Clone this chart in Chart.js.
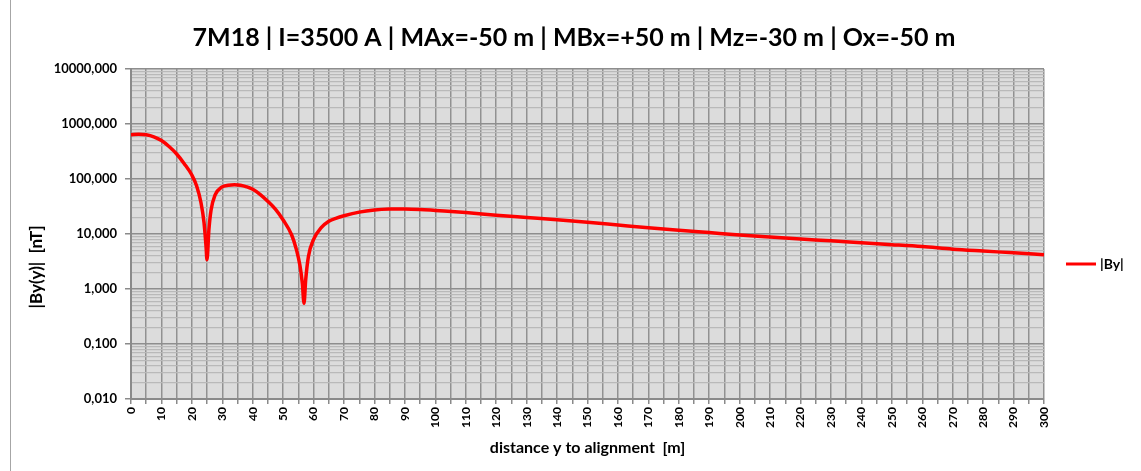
<!DOCTYPE html>
<html>
<head>
<meta charset="utf-8">
<script src="https://cdn.jsdelivr.net/npm/chart.js@4.4.1/dist/chart.umd.min.js"></script>
<style>
  html, body { margin: 0; padding: 0; background: #ffffff; }
  #wrap { width: 1141px; height: 471px; }
</style>
</head>
<body>
<div id="wrap"><canvas id="c" width="1141" height="471"></canvas></div>
<script>
// Distance from the alignment [m]
const distances = [
  0, 2.5, 5, 7.5, 10, 12.5, 15, 17.5, 20, 21.6, 23.0, 24.0, 24.65, 24.97, 25.6, 26.3, 27.6, 29.8,
  32, 34, 36, 38, 40, 42.5, 45, 47.5, 50, 52.8, 54.4, 55.5, 56.3, 56.85, 57.4, 58.3, 60, 62.5,
  65, 67.5, 70, 75, 80, 85, 90, 95, 100, 110, 120, 130, 140, 150, 160, 170, 180, 190, 200,
  210, 220, 230, 240, 250, 260, 270, 280, 290, 300
];
// |By(y)| [nT]
const byValues = [
  640, 650, 635, 585, 500, 390, 285, 190, 118, 74, 37, 16, 6, 3.4, 12, 27, 51, 71,
  77, 78.5, 77, 72, 65, 52, 39, 28, 18, 9.6, 5.1, 2.7, 1.27, 0.55, 1.46, 3.9, 8, 13,
  17, 19.5, 21.5, 25, 27.3, 28.4, 28.6, 28, 26.8, 24.5, 22, 20, 18.2, 16.4, 14.6, 13, 11.7, 10.6, 9.6,
  8.8, 8.1, 7.5, 6.9, 6.4, 5.9, 5.3, 4.9, 4.55, 4.2
];

const chartTitle = '7M18 | I=3500 A | MAx=-50 m | MBx=+50 m | Mz=-30 m | Ox=-50 m';
const seriesName = '|By|';
const xAxisTitle = 'distance y to alignment  [m]';
const yAxisTitle = '|By(y)|  [nT]';

// Decade ticks on the log axis and their labels
const yDecades = [0.01, 0.1, 1, 10, 100, 1000, 10000];
const yTickLabels = ['0,010', '0,100', '1,000', '10,000', '100,000', '1000,000', '10000,000'];
// Labelled distance ticks (gridlines every 5 m)
const xTickLabels = [0, 10, 20, 30, 40, 50, 60, 70, 80, 90, 100, 110, 120, 130, 140, 150,
  160, 170, 180, 190, 200, 210, 220, 230, 240, 250, 260, 270, 280, 290, 300];

const FONT = 'Lato, "Open Sans", "DejaVu Sans", sans-serif';

function isDecade(v) {
  const l = Math.log10(v);
  return Math.abs(l - Math.round(l)) < 1e-9;
}

// White page, thin left frame line, grey plot background
const backdrop = {
  id: 'backdrop',
  beforeDraw(chart) {
    const { ctx, chartArea: a } = chart;
    ctx.save();
    ctx.fillStyle = '#ffffff';
    ctx.fillRect(0, 0, chart.width, chart.height);
    ctx.strokeStyle = '#a6a6a6';
    ctx.lineWidth = 1;
    ctx.beginPath();
    ctx.moveTo(10.5, 0);
    ctx.lineTo(10.5, chart.height);
    ctx.stroke();
    ctx.fillStyle = '#dcdcdc';
    ctx.fillRect(a.left, a.top, a.right - a.left, a.bottom - a.top);
    ctx.restore();
  }
};

// Heading, rotated y-axis title and the side legend
const annotations = {
  id: 'annotations',
  afterDraw(chart) {
    const { ctx, chartArea: a } = chart;
    const ds = chart.data.datasets[0];

    ctx.save();
    ctx.fillStyle = '#000000';
    ctx.font = 'bold 25px ' + FONT;
    ctx.textAlign = 'center';
    ctx.textBaseline = 'middle';
    ctx.fillText(chartTitle, 574, 38);
    ctx.restore();

    ctx.save();
    ctx.fillStyle = '#000000';
    ctx.font = 'bold 17px ' + FONT;
    ctx.textAlign = 'center';
    ctx.textBaseline = 'middle';
    ctx.translate(37, 267);
    ctx.rotate(-Math.PI / 2);
    ctx.fillText(yAxisTitle, 0, 0);
    ctx.restore();

    const y = a.top + 195;
    ctx.save();
    ctx.strokeStyle = ds.borderColor;
    ctx.lineWidth = 3;
    ctx.beginPath();
    ctx.moveTo(a.right + 22, y);
    ctx.lineTo(a.right + 52, y);
    ctx.stroke();
    ctx.fillStyle = '#000000';
    ctx.font = 'bold 14px ' + FONT;
    ctx.textAlign = 'left';
    ctx.textBaseline = 'middle';
    ctx.fillText(ds.label, a.right + 56, y);
    ctx.restore();
  }
};

new Chart(document.getElementById('c'), {
  type: 'line',
  data: {
    datasets: [{
      label: seriesName,
      data: distances.map((d, i) => ({ x: d, y: byValues[i] })),
      borderColor: '#ff0000',
      backgroundColor: '#ff0000',
      borderWidth: 3.5,
      pointRadius: 0,
      cubicInterpolationMode: 'monotone',
      fill: false
    }]
  },
  options: {
    responsive: false,
    animation: false,
    devicePixelRatio: 1,
    layout: { padding: { left: 0, right: 97, top: 69, bottom: 0 } },
    plugins: {
      legend: { display: false },
      tooltip: { enabled: false },
      title: { display: false }
    },
    scales: {
      x: {
        type: 'linear',
        min: 0,
        max: 300,
        afterFit(s) { s.height = 72; },
        border: { display: true, color: '#8a8a8a', width: 2 },
        grid: {
          color: '#919191',
          lineWidth: 1.5,
          drawTicks: true,
          tickLength: 5,
          tickColor: '#8a8a8a'
        },
        ticks: {
          stepSize: 5,
          autoSkip: false,
          minRotation: 90,
          maxRotation: 90,
          padding: 3,
          color: '#000000',
          font: { family: FONT, size: 12, weight: 'bold' },
          callback: (v) => (xTickLabels.includes(v) ? String(v) : '')
        },
        title: {
          display: true,
          text: xAxisTitle,
          color: '#000000',
          font: { family: FONT, size: 16, weight: 'bold', lineHeight: 1.2 },
          padding: { top: 0, bottom: 14 }
        }
      },
      y: {
        type: 'logarithmic',
        min: yDecades[0],
        max: yDecades[yDecades.length - 1],
        afterFit(s) { s.width = 131; },
        afterBuildTicks(s) {
          const t = [];
          for (let i = 0; i < yDecades.length; i++) {
            const d = yDecades[i];
            t.push({ value: d, major: true });
            if (i < yDecades.length - 1) {
              for (let m = 2; m <= 9; m++) t.push({ value: d * m });
            }
          }
          s.ticks = t;
        },
        border: { display: true, color: '#8a8a8a', width: 2 },
        grid: {
          color: (c) => (c.tick && isDecade(c.tick.value) ? '#8e8e8e' : '#b9b9b9'),
          lineWidth: (c) => (c.tick && isDecade(c.tick.value) ? 1.5 : 1.2),
          drawTicks: true,
          tickLength: 6,
          tickColor: (c) => (c.tick && isDecade(c.tick.value) ? '#8a8a8a' : 'rgba(0,0,0,0)')
        },
        ticks: {
          autoSkip: false,
          padding: 8,
          color: '#000000',
          font: { family: FONT, size: 13, weight: 'bold' },
          callback: (v) => {
            const idx = yDecades.findIndex((d) => Math.abs(Math.log10(d) - Math.log10(v)) < 1e-9);
            return idx >= 0 ? yTickLabels[idx] : '';
          }
        }
      }
    }
  },
  plugins: [backdrop, annotations]
});
</script>
</body>
</html>
